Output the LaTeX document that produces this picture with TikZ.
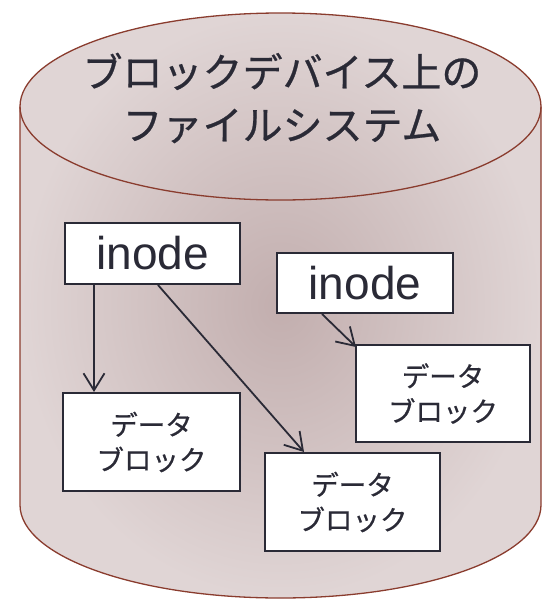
\documentclass[tikz,border=0pt]{standalone}
\usepackage{fontspec}
\setmainfont{Liberation Sans}
\newfontfamily\jp[FakeBold=0.6]{Noto Sans CJK JP}
\usetikzlibrary{arrows.meta}
\definecolor{cylline}{RGB}{138,60,46}
\definecolor{ink}{RGB}{42,42,54}
\definecolor{cylin}{RGB}{194,174,174}
\definecolor{cylout}{RGB}{224,213,213}
\tikzset{
  box/.style={draw=ink, line width=2pt, fill=white, inner sep=0pt, text=ink},
  inodebox/.style={box, minimum width=175pt, minimum height=60pt, font=\fontsize{46}{50}\selectfont},
  databox/.style={box, minimum width=175pt, minimum height=97pt, align=center, font=\jp\fontsize{27.5}{35}\selectfont},
  arr/.style={draw=ink, line width=1.8pt, -{Straight Barb[length=17pt,width=21pt,line width=1.8pt]}},
}
\begin{document}
\begin{tikzpicture}[x=1pt,y=-1pt]
\useasboundingbox (0,0) rectangle (542,600);
% cylinder body
\path[shading=radial, inner color=cylin, outer color=cylout]
  (20,505) -- (20,106.5) arc[start angle=180, end angle=360, x radius=260.5, y radius=93.5]
  -- (541,505) arc[start angle=0, end angle=180, x radius=260.5, y radius=93] -- cycle;
\draw[cylline, line width=1.3pt]
  (20,106.5) -- (20,505) arc[start angle=180, end angle=0, x radius=260.5, y radius=93] -- (541,106.5);
\draw[cylline, line width=1.3pt] (280.5,106.5) ellipse[x radius=260.5, y radius=93.5];
\node[text=ink, align=center, font=\jp\fontsize{40}{53}\selectfont] (title) at (282,98) {ブロックデバイス上の\\ファイルシステム};
% nodes
\node[inodebox, minimum width=175pt, minimum height=61pt] (inode1) at (152.5,253.5) {inode};
\node[inodebox, minimum width=176pt] (inode2) at (365,283) {inode};
\node[databox, minimum width=174pt] (dataR) at (443,393.5) {データ\\ブロック};
\node[databox, minimum height=98pt] (dataM) at (352.5,502) {データ\\ブロック};
\node[databox, minimum width=177pt, minimum height=98pt] (dataL) at (151.5,442) {データ\\ブロック};
% arrows
\draw[arr] ([xshift=30pt]inode1.south west) -- ([xshift=30pt]inode1.south west |- dataL.north);
\draw[arr] ([xshift=94pt]inode1.south west) -- ([xshift=40pt]dataM.north west);
\draw[arr] ([xshift=46pt]inode2.south west) -- ([xshift=1pt,yshift=-3pt]dataR.north west);
\end{tikzpicture}
\end{document}
